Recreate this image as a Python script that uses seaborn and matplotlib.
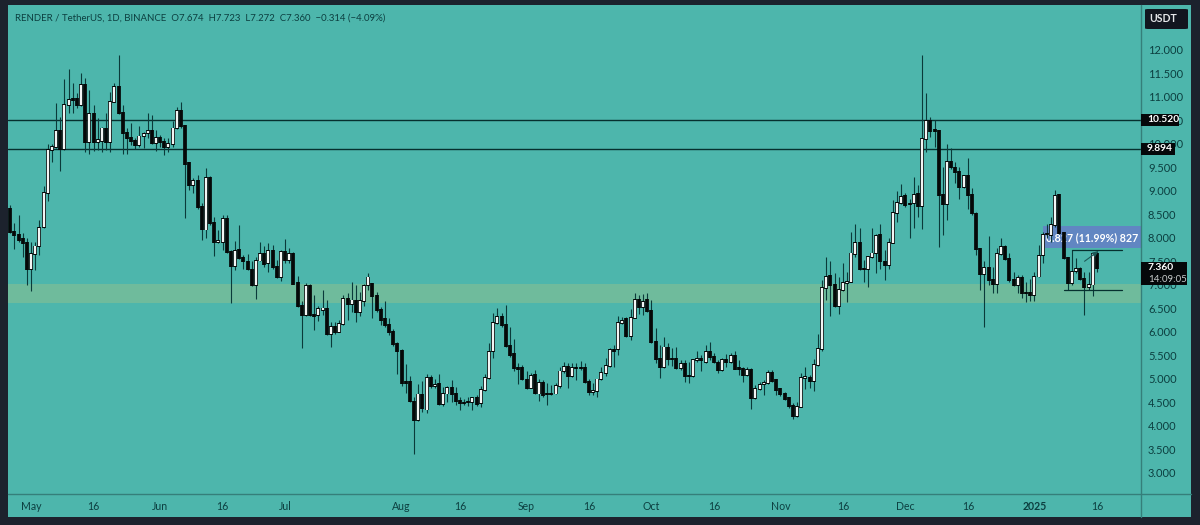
import matplotlib.pyplot as plt
import numpy as np
import pandas as pd
import seaborn as sns
from matplotlib.patches import FancyBboxPatch, Rectangle
from matplotlib.lines import Line2D


# daily candles
opens = [
    8.61, 8.13, 8.06, 7.97, 7.89, 7.33, 7.66, 7.82, 8.23, 8.96,
    9.87, 9.94, 10.28, 9.89, 10.83, 10.95, 10.96, 10.82, 11.26, 10.04,
    10.63, 10.04, 10.07, 10.33, 10.05, 10.89, 11.21, 10.65, 10.24, 10.12,
    10.07, 9.98, 10.16, 10.23, 10.28, 10.03, 10.13, 10.05, 9.94, 10.0,
    10.33, 10.71, 10.38, 9.59, 9.13, 9.22, 8.65, 8.18, 9.28, 8.31,
    7.92, 7.92, 8.40, 7.70, 7.40, 7.74, 7.57, 7.50, 7.33, 7.0,
    7.52, 7.67, 7.46, 7.73, 7.38, 7.16, 7.70, 7.53, 7.65, 7.05,
    6.55, 6.36, 6.98, 6.36, 6.36, 6.47, 6.49, 5.95, 6.11, 6.0,
    6.17, 6.71, 6.59, 6.66, 6.43, 6.65, 7.0, 7.02, 6.77, 6.46,
    6.27, 6.15, 6.0, 5.74, 5.6, 4.94, 4.94, 4.52, 4.13, 4.67,
    4.35, 5.03, 4.85, 4.9, 4.47, 4.69, 4.81, 4.68, 4.54, 4.5,
    4.51, 4.5, 4.6, 4.48, 4.77, 5.03, 5.59, 6.2, 6.31, 6.15,
    5.71, 5.53, 5.23, 5.24, 4.99, 4.81, 5.08, 4.69, 4.92, 4.68,
    4.67, 4.69, 4.86, 5.16, 5.26, 5.07, 5.23, 5.24, 5.23, 4.94,
    4.72, 4.75, 4.99, 5.13, 5.27, 5.61, 5.63, 6.2, 6.27, 5.91,
    6.3, 6.68, 6.54, 6.68, 6.45, 5.79, 5.43, 5.25, 5.67, 5.43,
    5.43, 5.23, 5.33, 5.07, 5.07, 5.4, 5.43, 5.37, 5.58, 5.47,
    5.35, 5.19, 5.4, 5.37, 5.5, 5.23, 5.22, 5.09, 5.2, 4.6,
    4.78, 4.89, 4.91, 5.13, 4.98, 4.78, 4.69, 4.6, 4.43, 4.21,
    4.41, 5.03, 5.03, 4.96, 5.3, 5.63, 6.94, 7.19, 7.0, 6.56,
    6.89, 7.04, 7.07, 7.66, 7.89, 7.35, 7.34, 7.59, 7.67, 8.06,
    7.5, 7.43, 7.9, 8.54, 8.74, 8.9, 8.72, 8.74, 8.93, 8.67,
    10.1, 10.49, 10.29, 10.28, 8.91, 8.72, 9.61, 9.5, 9.41, 9.08,
    9.33, 8.91, 8.52, 7.76, 7.23, 7.37, 7.11, 7.02, 7.65, 7.81,
    7.55, 7.11, 6.99, 7.16, 6.82, 6.84, 6.79, 7.18, 7.64, 8.08,
    8.06, 8.28, 8.91, 8.1, 7.57, 7.04, 7.3, 7.35, 7.12, 6.96,
    7.01, 7.67,
]
closes = [
    8.13, 8.06, 7.96, 7.89, 7.33, 7.65, 7.82, 8.22, 8.96, 9.87,
    9.94, 10.28, 9.89, 10.83, 10.94, 10.94, 10.82, 11.26, 10.04, 10.63,
    10.04, 10.09, 10.33, 10.04, 10.89, 11.21, 10.65, 10.24, 10.12, 10.06,
    9.98, 10.16, 10.21, 10.28, 10.03, 10.13, 10.04, 9.94, 10.0, 10.33,
    10.71, 10.38, 9.57, 9.13, 9.22, 8.65, 8.18, 9.27, 8.31, 7.92,
    7.93, 8.40, 7.70, 7.40, 7.72, 7.57, 7.50, 7.33, 7.0, 7.52,
    7.66, 7.45, 7.72, 7.38, 7.16, 7.70, 7.52, 7.65, 7.03, 6.55,
    6.36, 6.98, 6.36, 6.34, 6.48, 6.50, 5.95, 6.11, 6.0, 6.17,
    6.71, 6.59, 6.67, 6.43, 6.65, 6.98, 7.16, 6.77, 6.46, 6.26,
    6.15, 6.0, 5.74, 5.6, 4.91, 4.92, 4.52, 4.13, 4.67, 4.38,
    5.03, 4.84, 4.88, 4.47, 4.69, 4.81, 4.68, 4.54, 4.48, 4.49,
    4.5, 4.6, 4.47, 4.77, 5.03, 5.58, 6.2, 6.31, 6.15, 5.71,
    5.51, 5.23, 5.22, 4.99, 4.81, 5.06, 4.69, 4.91, 4.66, 4.67,
    4.68, 4.86, 5.16, 5.26, 5.07, 5.23, 5.24, 5.23, 4.94, 4.72,
    4.75, 4.99, 5.13, 5.27, 5.61, 5.6, 6.2, 6.24, 5.91, 6.3,
    6.68, 6.54, 6.64, 6.45, 5.79, 5.43, 5.25, 5.67, 5.43, 5.42,
    5.23, 5.32, 5.07, 5.06, 5.4, 5.43, 5.4, 5.58, 5.46, 5.35,
    5.19, 5.4, 5.37, 5.49, 5.22, 5.22, 5.09, 5.19, 4.6, 4.78,
    4.87, 4.91, 5.13, 4.96, 4.77, 4.67, 4.57, 4.43, 4.21, 4.41,
    5.03, 5.04, 4.96, 5.3, 5.63, 6.93, 7.18, 7.0, 6.56, 6.89,
    7.04, 7.07, 7.67, 7.89, 7.34, 7.34, 7.59, 7.67, 8.04, 7.5,
    7.43, 7.9, 8.54, 8.74, 8.88, 8.7, 8.73, 8.91, 8.67, 10.1,
    10.48, 10.28, 10.28, 8.91, 8.72, 9.61, 9.5, 9.41, 9.08, 9.32,
    8.91, 8.52, 7.77, 7.23, 7.37, 7.11, 7.02, 7.65, 7.8, 7.55,
    7.11, 6.99, 7.14, 6.82, 6.83, 6.79, 7.18, 7.62, 8.06, 8.09,
    8.28, 8.89, 8.1, 7.57, 7.04, 7.28, 7.35, 7.12, 6.96, 7.01,
    7.66, 7.36,
]
highs = [
    8.70, 8.31, 8.49, 8.10, 8.0, 7.92, 7.92, 8.38, 9.10, 9.99,
    10.01, 10.87, 10.58, 11.38, 11.60, 11.30, 11.09, 11.50, 11.40, 11.15,
    10.83, 10.55, 10.37, 10.65, 11.11, 11.29, 11.89, 10.83, 10.33, 10.45,
    10.12, 10.38, 10.26, 10.65, 10.62, 10.30, 10.19, 10.12, 10.12, 10.48,
    10.79, 10.90, 10.40, 9.62, 9.27, 9.34, 8.74, 9.48, 9.31, 8.45,
    8.17, 8.49, 8.49, 7.75, 7.94, 8.28, 7.64, 7.66, 7.52, 7.60,
    7.92, 7.82, 7.90, 7.85, 7.53, 7.74, 7.97, 7.78, 7.71, 7.19,
    6.65, 7.05, 7.03, 6.79, 6.55, 6.90, 6.68, 6.22, 6.22, 6.26,
    6.79, 6.82, 7.07, 7.0, 6.86, 7.03, 7.26, 7.05, 6.86, 6.54,
    6.66, 6.29, 6.06, 5.79, 5.63, 5.32, 5.06, 4.62, 4.89, 4.96,
    5.1, 5.08, 5.0, 5.11, 4.83, 4.85, 4.98, 4.83, 4.62, 4.57,
    4.62, 4.62, 4.66, 4.85, 5.11, 5.77, 6.4, 6.5, 6.4, 6.57,
    6.11, 5.86, 5.33, 5.3, 5.18, 5.12, 5.19, 4.99, 4.98, 4.91,
    4.87, 4.91, 5.25, 5.37, 5.35, 5.33, 5.33, 5.38, 5.33, 4.99,
    4.91, 5.01, 5.26, 5.44, 5.65, 5.72, 6.33, 6.31, 6.31, 6.48,
    6.82, 6.79, 6.81, 6.82, 6.69, 6.08, 5.72, 5.89, 5.77, 5.65,
    5.69, 5.4, 5.4, 5.37, 5.42, 5.6, 5.51, 5.72, 5.79, 5.55,
    5.4, 5.44, 5.53, 5.56, 5.6, 5.4, 5.25, 5.25, 5.23, 4.87,
    4.94, 4.98, 5.2, 5.19, 5.01, 4.8, 4.73, 4.62, 4.48, 4.52,
    5.12, 5.25, 5.08, 5.42, 5.95, 7.11, 7.59, 7.52, 7.26, 7.16,
    7.46, 7.28, 8.13, 8.3, 8.21, 7.53, 7.62, 8.21, 8.09, 8.3,
    7.74, 7.99, 8.81, 9.01, 9.15, 8.95, 8.84, 9.29, 9.13, 11.89,
    11.08, 10.58, 10.52, 10.3, 9.52, 10.0, 9.91, 9.62, 9.52, 9.34,
    9.71, 9.06, 8.56, 7.78, 7.5, 8.04, 7.39, 7.78, 7.99, 7.85,
    7.67, 7.28, 7.21, 7.21, 7.07, 7.12, 7.28, 7.85, 8.13, 8.3,
    8.45, 9.02, 8.94, 8.13, 7.6, 7.74, 7.57, 7.39, 7.28, 7.28,
    7.68, 7.72,
]
lows = [
    8.11, 7.77, 7.92, 7.60, 7.0, 6.88, 7.32, 7.64, 8.21, 8.79,
    9.61, 9.91, 9.43, 9.87, 10.65, 10.65, 10.76, 10.81, 9.84, 9.78,
    9.85, 9.87, 9.84, 9.87, 9.84, 10.89, 10.64, 9.79, 9.79, 9.98,
    9.89, 9.94, 9.91, 10.12, 10.01, 9.85, 9.94, 9.77, 9.82, 9.94,
    10.31, 10.35, 8.42, 9.02, 8.95, 8.62, 7.96, 7.99, 8.27, 7.62,
    7.90, 7.74, 7.69, 6.61, 7.32, 7.55, 7.33, 7.32, 6.97, 6.70,
    7.50, 7.39, 7.28, 7.35, 7.14, 7.09, 7.46, 7.46, 7.02, 6.54,
    5.65, 6.33, 6.33, 6.04, 6.24, 6.36, 5.94, 5.67, 5.96, 5.99,
    6.15, 6.26, 6.43, 6.22, 6.33, 6.55, 6.9, 6.29, 6.43, 6.15,
    6.11, 5.94, 5.71, 5.10, 4.85, 4.7, 4.50, 3.40, 4.11, 4.30,
    4.27, 4.8, 4.8, 4.45, 4.43, 4.52, 4.5, 4.45, 4.33, 4.45,
    4.43, 4.33, 4.43, 4.4, 4.75, 5.01, 5.44, 6.18, 6.1, 5.69,
    5.46, 5.18, 4.89, 4.98, 4.78, 4.8, 4.68, 4.54, 4.62, 4.45,
    4.66, 4.67, 4.8, 5.12, 4.8, 5.05, 4.97, 5.19, 4.92, 4.66,
    4.66, 4.61, 4.98, 5.06, 5.25, 5.26, 5.51, 6.18, 5.89, 5.83,
    6.29, 6.38, 6.36, 6.43, 5.77, 5.35, 5.03, 5.23, 5.3, 5.28,
    5.21, 5.19, 4.94, 4.91, 5.05, 5.37, 5.17, 5.35, 5.4, 5.33,
    5.12, 5.17, 5.26, 5.33, 5.21, 5.08, 4.93, 5.07, 4.36, 4.57,
    4.77, 4.66, 4.89, 4.94, 4.66, 4.64, 4.55, 4.38, 4.15, 4.2,
    4.4, 4.78, 4.8, 4.75, 5.28, 5.6, 6.68, 6.35, 6.54, 6.38,
    6.88, 6.63, 7.06, 7.6, 7.32, 7.06, 6.96, 7.57, 7.25, 7.35,
    7.11, 7.35, 7.89, 8.35, 8.72, 8.65, 7.99, 8.21, 8.45, 8.19,
    9.84, 10.14, 9.94, 7.8, 8.06, 8.38, 9.46, 9.16, 8.83, 9.06,
    8.61, 8.49, 7.64, 6.89, 6.1, 7.0, 6.84, 6.84, 7.64, 7.53,
    7.07, 6.97, 6.82, 6.73, 6.63, 6.65, 6.65, 7.16, 7.47, 8.0,
    7.92, 8.24, 8.08, 7.55, 6.89, 7.0, 7.25, 7.11, 6.36, 6.89,
    6.77, 7.27,
]

# axis labels
date_labels = ["May", "16", "Jun", "16", "Jul", "Aug", "16", "Sep", "16", "Oct", "16", "Nov", "16", "Dec", "16", "2025", "16"]
date_bars = [5, 20, 36, 51, 66, 94, 108, 124, 139, 154, 169, 185, 200, 215, 230, 246, 261]
price_ticks = [3.0, 3.5, 4.0, 4.5, 5.0, 5.5, 6.0, 6.5, 7.0, 7.5, 8.0, 8.5, 9.0, 9.5, 10.0, 10.5, 11.0, 11.5, 12.0]

# levels drawn on the chart
resistance_levels = [10.52, 9.894]
zone_low, zone_high = 6.61, 7.02
range_top, range_bottom = 7.74, 6.90
title = "RENDER / TetherUS, 1D, BINANCE  O7.674  H7.723  L7.272  C7.360  \u22120.314 (\u22124.09%)"

TEAL = "#4db6ac"
DARK = "#1c222d"
INK = "#0c3f40"
WICK = "#0a3a3a"
W, H = 1200, 525


def px(x, y):
    return x / W, 1 - y / H


def tag(x0, y0, x1, y1, color):
    fx, fy = px(x0, y1)
    fig.add_artist(Rectangle((fx, fy), (x1 - x0) / W, (y1 - y0) / H, transform=fig.transFigure,
                             facecolor=color, edgecolor="none", zorder=5))


def segments(bar, start, end):
    # two rows per candle, so lineplot draws one vertical segment for each unit
    return pd.DataFrame({
        "bar": np.concatenate([bar, bar]),
        "price": np.concatenate([start, end]),
    })


o = np.array(opens)
c = np.array(closes)
bars = np.arange(len(o))
top = np.maximum(o, c)
bottom = np.minimum(o, c)
up = c >= o

sns.set_theme(style="white", rc={"axes.linewidth": 1.0})
plt.rcParams["font.family"] = ["Lato", "DejaVu Sans"]

fig = plt.figure(figsize=(W / 100, H / 100), dpi=100, facecolor=DARK)
fig.add_artist(Rectangle((8 / W, 1 - 517 / H), (1191 - 8) / W, (517 - 5) / H, transform=fig.transFigure,
                         facecolor=TEAL, edgecolor="none", zorder=-1))

ax = fig.add_axes([8 / W, 1 - 494 / H, (1141 - 8) / W, (494 - 5) / H])
ax.set_facecolor(TEAL)

ax.axhspan(zone_low, zone_high, color="#6fbb9c", lw=0, zorder=1)
for level in resistance_levels:
    ax.axhline(level, color="#06302f", lw=1.0, zorder=2)

# measuring tool, sits under the candles
ax.add_patch(Rectangle((248, 7.79), 271.6 - 248, 0.46, facecolor="#6186c2", edgecolor="none", zorder=2))
ax.text(259.8, 8.01, "0.827 (11.99%) 827", color="white", fontsize=7.7, fontweight="bold",
        ha="center", va="center", zorder=2.5)

wicks = segments(bars, np.array(lows), np.array(highs))
sns.lineplot(data=wicks, x="bar", y="price", units="bar", estimator=None, sort=False, color=WICK,
             linewidth=0.8, solid_capstyle="butt", legend=False, ax=ax, zorder=3)

pad = 0.02
outline = segments(bars, bottom - pad, top + pad)
sns.lineplot(data=outline, x="bar", y="price", units="bar", estimator=None, sort=False, color="#050808",
             linewidth=2.7, solid_capstyle="butt", legend=False, ax=ax, zorder=4)
inner = segments(bars[up], bottom[up], top[up])
sns.lineplot(data=inner, x="bar", y="price", units="bar", estimator=None, sort=False, color="#f2f5f4",
             linewidth=1.6, solid_capstyle="butt", legend=False, ax=ax, zorder=5)

ax.plot([255, 267], [range_top, range_top], color="#06302f", lw=0.9, zorder=6)
ax.plot([253, 267], [range_bottom, range_bottom], color="#06302f", lw=0.9, zorder=6)
ax.annotate("", xy=(262, 7.76), xytext=(257.5, 7.47), zorder=6,
            arrowprops=dict(arrowstyle="-|>,head_width=0.12,head_length=0.3", color="#1d5a58", lw=0.8))

ax.set_xlim(-0.55, 271.6)
ax.set_ylim(2.553, 12.957)
ax.set_xlabel("")
ax.set_ylabel("")
ax.set_xticks(date_bars)
ax.set_xticklabels(date_labels)
ax.yaxis.tick_right()
ax.set_yticks(price_ticks)
ax.set_yticklabels([f"{p:.3f}" for p in price_ticks])
ax.tick_params(axis="x", length=0, pad=5, labelsize=7.6, labelcolor=INK)
ax.tick_params(axis="y", length=0, pad=5, labelsize=8.0, labelcolor=INK)
for label, name in zip(ax.get_xticklabels(), date_labels):
    if name == "2025":
        label.set_fontweight("bold")
for side in ["top", "left", "right", "bottom"]:
    ax.spines[side].set_visible(False)

# frame lines of the price and time scales
fig.add_artist(Line2D([1141 / W, 1141 / W], [1 - 5 / H, 1 - 517 / H], color="#357f7a", lw=1.0, zorder=1))
fig.add_artist(Line2D([8 / W, 1191 / W], [1 - 494 / H, 1 - 494 / H], color="#357f7a", lw=1.0, zorder=1))

fig.text(*px(15, 18), title, color=INK, fontsize=6.9, va="center", ha="left")

# price tags on the scale
tag(1141, 114, 1179, 126, "#05080a")
tag(1141, 143, 1175, 155, "#05080a")
tag(1141, 262, 1187, 285, "#05080a")
fig.text(*px(1147, 119.5), "10.520", color="white", fontsize=7.4, fontweight="bold", va="center", zorder=6)
fig.text(*px(1147, 149), "9.894", color="white", fontsize=7.4, fontweight="bold", va="center", zorder=6)
fig.text(*px(1148, 268), "7.360", color="white", fontsize=7.4, fontweight="bold", va="center", zorder=6)
fig.text(*px(1148, 279), "14:09:05", color="#c8cccc", fontsize=7.0, va="center", zorder=6)

fx, fy = px(1145, 29)
fig.add_artist(FancyBboxPatch((fx, fy), 43 / W, 20 / H, boxstyle="round,pad=0,rounding_size=0.003",
                              transform=fig.transFigure, facecolor="#12161f", edgecolor="none", zorder=5,
                              mutation_aspect=H / W))
fig.text(*px(1163, 18.5), "USDT", color="#e4e6e8", fontsize=7.6, fontweight="bold", ha="center", va="center", zorder=6)

fig.savefig("out.png", dpi=100, facecolor=fig.get_facecolor())
